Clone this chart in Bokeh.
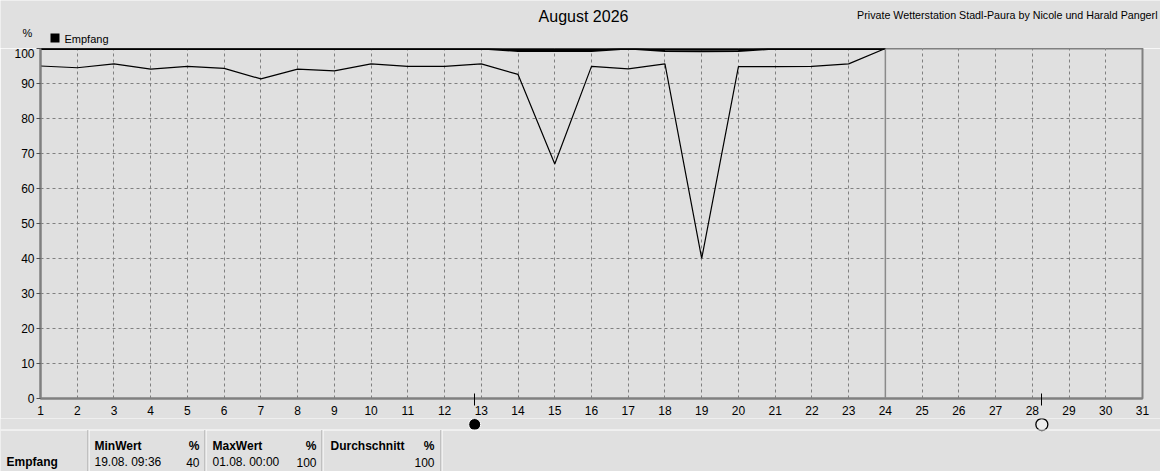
from bokeh.plotting import figure
from bokeh.models import Range1d, Span, FixedTicker, LinearAxis, Grid
from bokeh.layouts import column
from bokeh.core.properties import value
from bokeh.embed import file_html
from bokeh.resources import INLINE

# ---------------- data ----------------
days = [1, 2, 3, 4, 5, 6, 7, 8, 9, 10, 11, 12, 13, 14, 15, 16, 17, 18, 19, 20, 21, 22, 23, 24]
min_vals = [95.0, 94.5, 95.6, 94.1, 94.9, 94.3, 91.3, 94.1, 93.6, 95.6, 94.9, 94.9, 95.6,
            92.6, 67.0, 94.9, 94.2, 95.6, 40.0, 94.8, 94.8, 94.9, 95.6, 100.0]
max_vals = [100, 100, 100, 100, 100, 100, 100, 100, 100, 100, 100, 100, 100,
            100, 100, 100, 100, 100, 100, 100, 100, 100, 100, 100]
avg_vals = [100, 100, 100, 100, 100, 100, 100, 100, 100, 100, 100, 100, 100,
            99.3, 99.3, 99.3, 100, 99.3, 99.2, 99.3, 100, 100, 100, 100]
x_ticks = [1, 2, 3, 4, 5, 6, 7, 8, 9, 10, 11, 12, 13, 14, 15, 16, 17, 18, 19, 20,
           21, 22, 23, 24, 25, 26, 27, 28, 29, 30, 31]
y_ticks = [0, 10, 20, 30, 40, 50, 60, 70, 80, 90, 100]
new_moon_day = [12.82]
full_moon_day = [28.26]

title_text = "August 2026"
header_text = "Private Wetterstation Stadl-Paura by Nicole und Harald Pangerl"
series_name = "Empfang"
unit = "%"
stat_headers = ["MinWert", "MaxWert", "Durchschnitt"]
stat_times = ["19.08.  09:36", "01.08.  00:00", ""]
stat_values = ["40", "100", "100"]

# ---------------- layout constants ----------------
BG = "#e0e0e0"
FONT = "Liberation Sans"
W = 1160
FL, FR = 40, 1142          # frame left / right (px)
HEAD_H = 48                # header strip height
FRAME_H = 350
PXD = (FR - FL) / 30.0     # px per day


def X(px):
    return 1 + (px - FL) / PXD


def strip(height, xr):
    f = figure(width=W, height=height, output_backend="svg", toolbar_location=None,
               x_range=xr, y_range=Range1d(height, 0),
               x_axis_location=None, y_axis_location=None, frame_align=False,
               min_border_left=0, min_border_right=0, min_border_top=0, min_border_bottom=0)
    f.grid.visible = False
    f.background_fill_color = BG
    f.border_fill_color = BG
    f.outline_line_color = None
    return f


def txt(f, x, y, s, align="left", size="11px", style="normal"):
    f.text(x=[x], y=[y], text=[s], text_align=align, text_baseline="middle",
           text_font=value(FONT), text_font_size=value(size), text_font_style=value(style),
           text_color="black")


# ---------------- header strip ----------------
head = strip(HEAD_H, Range1d(0, W))
txt(head, 583, 16, title_text, "center", "16px")
txt(head, 1157, 14, header_text, "right", "10.7px")
txt(head, 27, 32, unit, "center", "11px")
head.quad(left=[50], right=[59], top=[33], bottom=[42], fill_color="black", line_color=None)
txt(head, 64, 38, series_name, "left", "11px")

# ---------------- main chart ----------------
p = figure(width=W, frame_width=int(FR - FL), frame_height=FRAME_H,
           output_backend="svg", toolbar_location=None, frame_align=False,
           x_range=Range1d(1, 31), y_range=Range1d(0, 100),
           x_axis_location=None,
           min_border_left=FL, min_border_right=W - FR, min_border_top=0, min_border_bottom=20)
p.background_fill_color = BG
p.border_fill_color = BG
p.outline_line_color = "#808080"
p.outline_line_width = 2

yax = p.yaxis[0]
yax.ticker = FixedTicker(ticks=y_ticks)
yax.axis_line_color = "#808080"
yax.axis_line_width = 2
yax.major_tick_out = 4
yax.major_tick_in = 0
yax.major_tick_line_color = "#505050"
yax.minor_tick_line_color = None
yax.major_label_standoff = 2
yax.major_label_text_font = FONT
yax.major_label_text_font_size = "12px"
yax.major_label_text_color = "black"

# axis carrying the moon-phase ticks (nearest to frame)
moon_ax = LinearAxis(ticker=FixedTicker(ticks=new_moon_day + full_moon_day))
moon_ax.axis_line_color = "#808080"
moon_ax.axis_line_width = 2
moon_ax.major_tick_in = 5
moon_ax.major_tick_out = 7
moon_ax.major_tick_line_color = "black"
moon_ax.minor_tick_line_color = None
moon_ax.major_label_text_font_size = "0px"
moon_ax.major_label_text_alpha = 0
moon_ax.major_label_standoff = 0
p.add_layout(moon_ax, "below")

# axis with the day labels
day_ax = LinearAxis(ticker=FixedTicker(ticks=x_ticks))
day_ax.axis_line_color = None
day_ax.major_tick_line_color = None
day_ax.minor_tick_line_color = None
day_ax.major_tick_out = 0
day_ax.major_tick_in = 0
day_ax.major_label_standoff = 0
day_ax.major_label_text_font = FONT
day_ax.major_label_text_font_size = "12px"
day_ax.major_label_text_color = "black"
p.add_layout(day_ax, "below")

p.ygrid[0].ticker = FixedTicker(ticks=y_ticks)
xgrid = Grid(dimension=0, ticker=FixedTicker(ticks=x_ticks))
p.add_layout(xgrid)
for g in (xgrid, p.ygrid[0]):
    g.grid_line_color = "#808080"
    g.grid_line_dash = "3 3"
    g.grid_line_width = 1

p.add_layout(Span(location=days[-1], dimension="height", line_color="#8a8a8a", line_width=1.5))

p.line(days, min_vals, line_color="black", line_width=1.2)
p.line(days, avg_vals, line_color="black", line_width=2)
p.line(days, max_vals, line_color="black", line_width=3)

# ---------------- bottom strip: moon symbols + table ----------------
BOT_H = 53
bot = strip(BOT_H, Range1d(X(0), X(W)))
MY = 6
bot.scatter(new_moon_day, [MY] * len(new_moon_day), marker="circle", size=12,
            fill_color="black", line_color="white", line_width=1)
bot.scatter(full_moon_day, [MY] * len(full_moon_day), marker="circle", size=12,
            fill_color="#ececec", line_color="black", line_width=1.3)

TT = 11.5
bot.segment(x0=[X(0)], y0=[TT], x1=[X(W)], y1=[TT], line_color="white", line_width=1)
seps = [88, 205, 322, 441]
bot.segment(x0=[X(s - 0.5) for s in seps], y0=[TT] * 4, x1=[X(s - 0.5) for s in seps],
            y1=[BOT_H] * 4, line_color="#a0a0a0", line_width=1)
bot.segment(x0=[X(s + 0.5) for s in seps], y0=[TT] * 4, x1=[X(s + 0.5) for s in seps],
            y1=[BOT_H] * 4, line_color="white", line_width=1)

R1, R2 = TT + 16, TT + 32
txt(bot, X(6), R2, series_name, "left", "12px", "bold")
col_left = [94, 212, 330]
col_right = [199, 316, 434]
for i in range(3):
    txt(bot, X(col_left[i]), R1, stat_headers[i], "left", "12px", "bold")
    txt(bot, X(col_right[i]), R1, unit, "right", "12px", "bold")
    if stat_times[i]:
        txt(bot, X(col_left[i]), R2, stat_times[i], "left", "12px")
    txt(bot, X(col_right[i]), R2, stat_values[i], "right", "12px")

layout = column(head, p, bot, spacing=0)
open("out.html", "w").write(file_html(layout, INLINE))
